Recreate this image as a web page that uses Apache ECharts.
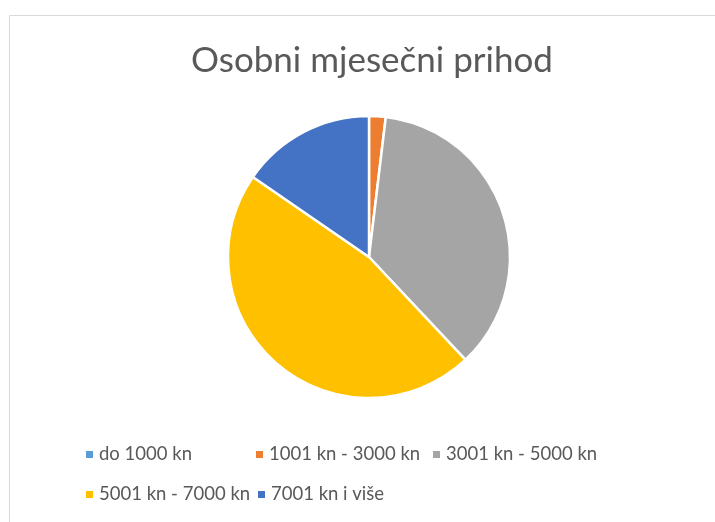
<!DOCTYPE html>
<html>
<head>
<meta charset="utf-8">
<script src="https://cdn.jsdelivr.net/npm/echarts@6/dist/echarts.min.js"></script>
<style>
html, body { margin: 0; padding: 0; background: #fff; }
#ct1 { width: 715px; height: 522px; }
</style>
</head>
<body>
<div id="ct1"></div>
<script>
var categories = ['do 1000 kn', '1001 kn - 3000 kn', '3001 kn - 5000 kn', '5001 kn - 7000 kn', '7001 kn i više'];
var values = [0, 1.9, 36.1, 46.6, 15.4];
var colors = ['#5b9bd5', '#ed7d31', '#a5a5a5', '#ffc000', '#4472c4'];

// legend slots, Excel style two rows
var legendPos = [
	{ left: 79, top: 440 },
	{ left: 249, top: 440 },
	{ left: 426, top: 440 },
	{ left: 79, top: 480 },
	{ left: 251, top: 480 }
];

var fontName = 'Lato';
var legends = [];
categories.forEach(function (name, i) {
	legends.push({
		data: [name],
		left: legendPos[i].left,
		top: legendPos[i].top,
		icon: 'rect',
		itemWidth: 9,
		itemHeight: 9,
		itemGap: 0,
		selectedMode: false,
		textStyle: { color: '#595959', fontSize: 18.5, fontFamily: fontName }
	});
});

var pieData = [];
categories.forEach(function (name, i) {
	pieData.push({ name: name, value: values[i], itemStyle: { color: colors[i] } });
});

var option1 = {
	backgroundColor: '#fff',
	animation: false,
	title: {
		text: 'Osobni mjesečni prihod',
		left: 186,
		top: 38,
		textStyle: { color: '#595959', fontSize: 35, fontWeight: 'normal', fontFamily: fontName }
	},
	legend: legends,
	graphic: [{
		type: 'rect',
		shape: { x: 9.5, y: 15.5, width: 800, height: 600 },
		style: { fill: 'none', stroke: '#d9d9d9', lineWidth: 1 },
		silent: true
	}],
	series: [{
		type: 'pie',
		center: [369, 257],
		radius: 141,
		startAngle: 90,
		clockwise: true,
		label: { show: false },
		labelLine: { show: false },
		itemStyle: { borderColor: '#fff', borderWidth: 2.5 },
		data: pieData
	}]
};

var myChart1 = echarts.init(document.getElementById('ct1'));
myChart1.setOption(option1, true);
</script>
</body>
</html>
